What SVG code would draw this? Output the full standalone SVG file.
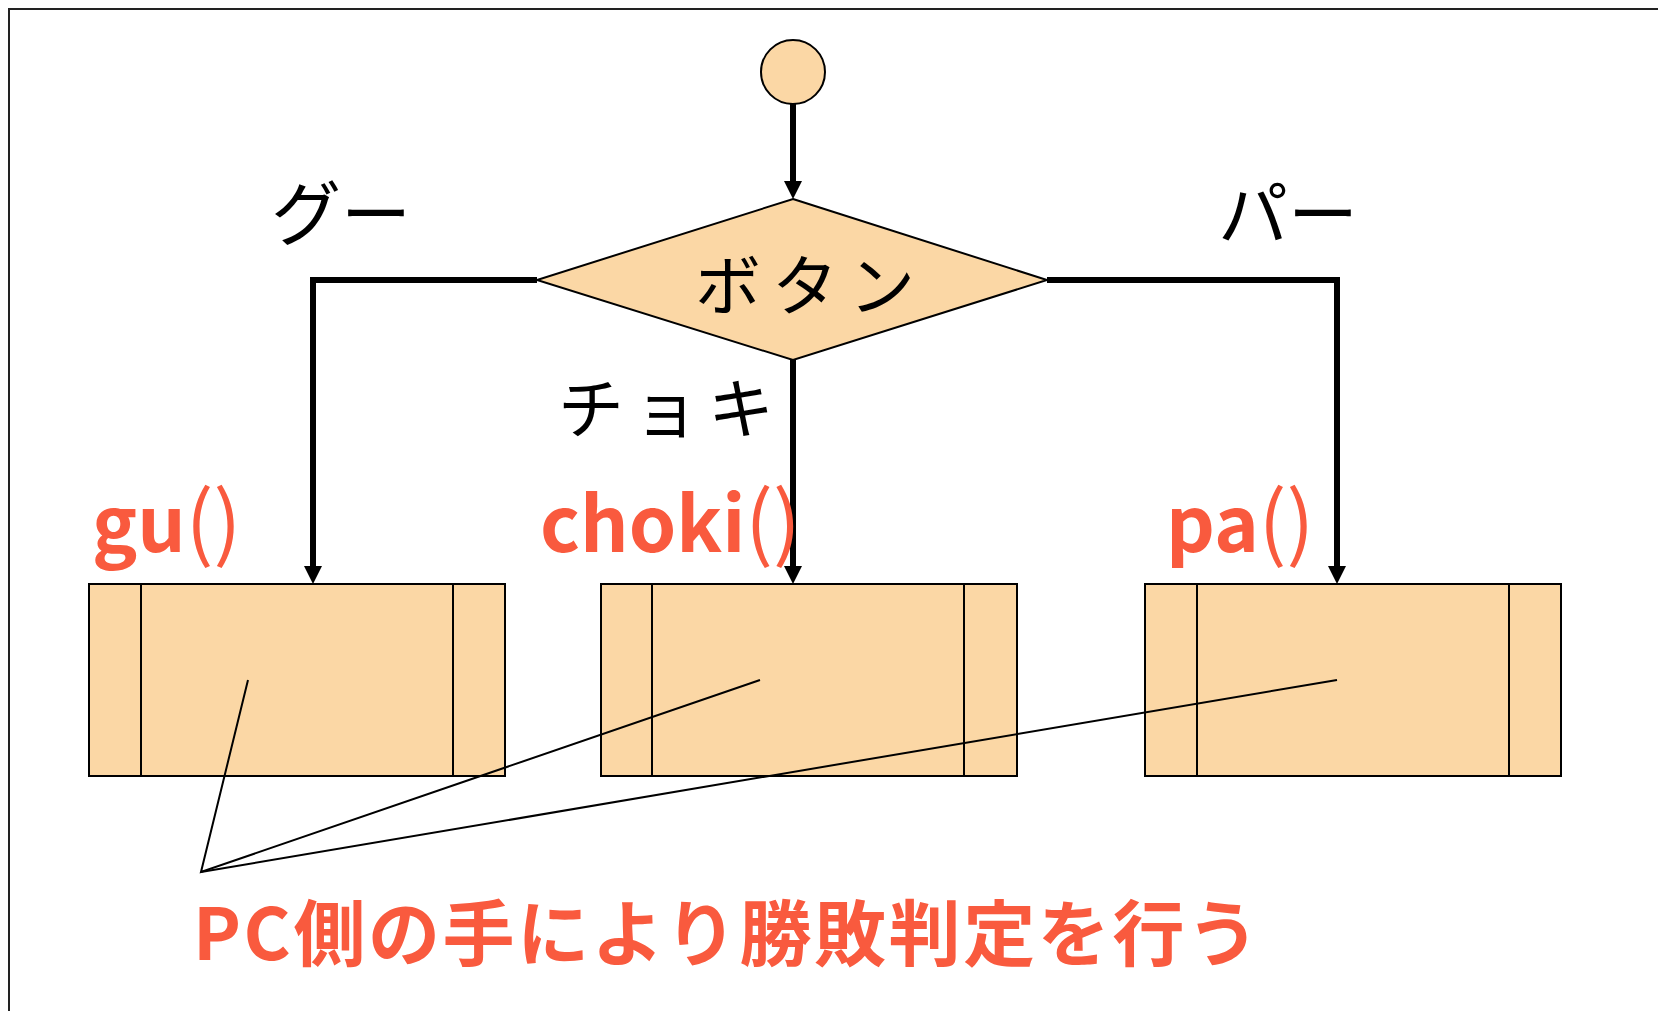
<svg xmlns="http://www.w3.org/2000/svg" width="1658" height="1011" viewBox="0 0 1658 1011">
<style>
.shape{fill:#FBD7A5;stroke:#000;stroke-width:2}
.flow{fill:none;stroke:#000;stroke-width:6}
.ptr{fill:none;stroke:#000;stroke-width:2}
.jp{font-family:"Noto Sans CJK JP","Noto Sans",sans-serif;fill:#000}
.red{font-family:"Noto Sans CJK JP","Noto Sans",sans-serif;font-weight:bold;fill:#F95A3E}
.thin{font-weight:normal}
</style>
<defs>
<marker id="arr" viewBox="0 0 18 18" refX="8" refY="9" markerWidth="18" markerHeight="18" markerUnits="userSpaceOnUse" orient="auto">
<path d="M0,0 L18,9 L0,18 Z" fill="#000"/>
</marker>
</defs>
<rect width="1658" height="1011" fill="#fff"/>
<path d="M9,1011 V9 H1658" fill="none" stroke="#222" stroke-width="2"/>

<g id="connectors">
<line class="flow" x1="793" y1="104" x2="793" y2="189" marker-end="url(#arr)"/>
<polyline class="flow" points="537,280 313,280 313,574" marker-end="url(#arr)"/>
<line class="flow" x1="793" y1="360" x2="793" y2="574" marker-end="url(#arr)"/>
<polyline class="flow" points="1047,280 1337,280 1337,574" marker-end="url(#arr)"/>
</g>

<g id="start"><ellipse class="shape" cx="793" cy="72" rx="32" ry="32"/></g>

<g id="decision">
<polygon class="shape" points="793,199 1047,280 793,360 537,280"/>
<text class="jp" x="695" y="310" font-size="66" letter-spacing="11">ボタン</text>
</g>

<g id="label-gu"><text class="jp" x="271" y="240" font-size="70">グー</text></g>
<g id="label-pa"><text class="jp" x="1218" y="240" font-size="70">パー</text></g>
<g id="label-choki"><text class="jp" x="558" y="433" font-size="66" letter-spacing="9">チョキ</text></g>

<g id="box-gu">
<rect class="shape" x="89" y="584" width="416" height="192"/>
<line class="ptr" x1="141" y1="584" x2="141" y2="776"/>
<line class="ptr" x1="453" y1="584" x2="453" y2="776"/>
<text class="red" x="92" y="552" font-size="76">gu<tspan class="thin" font-size="82">()</tspan></text>
</g>

<g id="box-choki">
<rect class="shape" x="601" y="584" width="416" height="192"/>
<line class="ptr" x1="652" y1="584" x2="652" y2="776"/>
<line class="ptr" x1="964" y1="584" x2="964" y2="776"/>
<text class="red" x="540" y="552" font-size="76">choki<tspan class="thin" font-size="82">()</tspan></text>
</g>

<g id="box-pa">
<rect class="shape" x="1145" y="584" width="416" height="192"/>
<line class="ptr" x1="1197" y1="584" x2="1197" y2="776"/>
<line class="ptr" x1="1509" y1="584" x2="1509" y2="776"/>
<text class="red" x="1166" y="552" font-size="76">pa<tspan class="thin" font-size="82">()</tspan></text>
</g>

<g id="pointers">
<polyline class="ptr" points="248,680 201,872 760,680"/>
<line class="ptr" x1="201" y1="872" x2="1337" y2="680"/>
</g>

<g id="note">
<text class="red" x="193" y="960" font-size="72" textLength="1066" lengthAdjust="spacing">PC側の手により勝敗判定を行う</text>
</g>
</svg>
